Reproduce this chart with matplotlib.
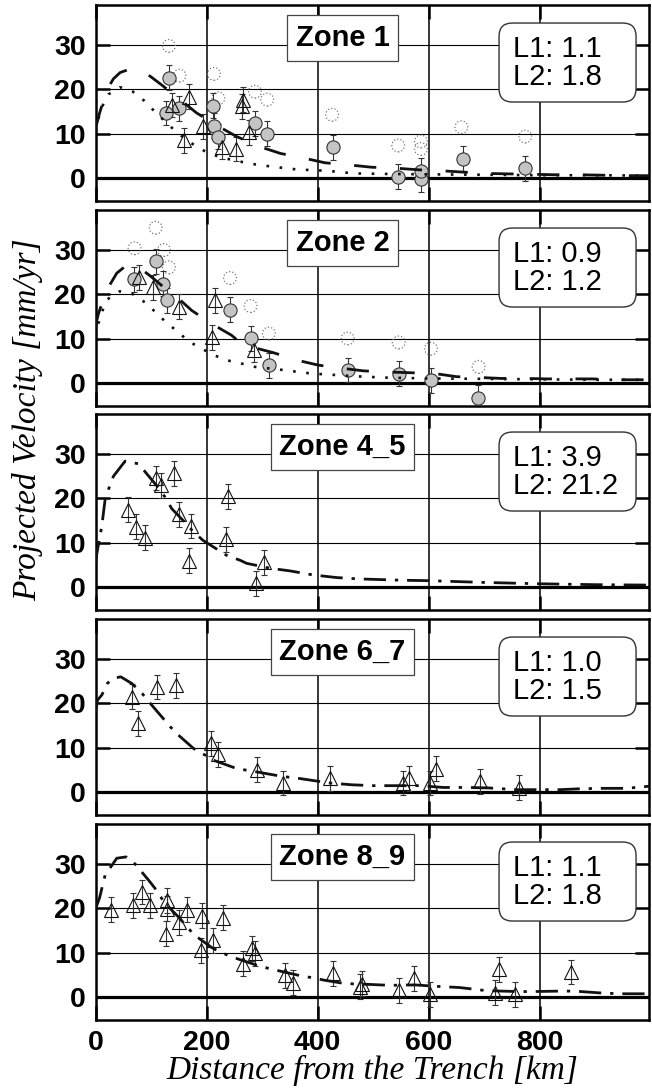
import matplotlib
matplotlib.use("Agg")
import matplotlib.pyplot as plt
from matplotlib.patches import FancyBboxPatch

plt.rcParams['font.family'] = ['Liberation Sans', 'DejaVu Sans']

# ---- values ----
zone_names = ['Zone 1', 'Zone 2', 'Zone 4_5', 'Zone 6_7', 'Zone 8_9']
l1_values = ['1.1', '0.9', '3.9', '1.0', '1.1']
l2_values = ['1.8', '1.2', '21.2', '1.5', '1.8']
x_ticks = [0, 200, 400, 600, 800]
y_ticks = [0, 10, 20, 30]
err_bar = 2.8

# Zone 1
z1_circ_x = [132, 127, 151, 212, 213, 221, 287, 309, 427, 545, 586, 587, 662, 774]
z1_circ_y = [22.6, 14.7, 15.8, 16.3, 11.8, 9.4, 12.4, 10.0, 7.0, 0.4, -0.2, 1.7, 4.4, 2.3]
z1_raw_x = [132, 151, 213, 221, 287, 309, 426, 545, 586, 586, 659, 774]
z1_raw_y = [29.8, 23.1, 23.5, 18.0, 19.5, 17.7, 14.3, 7.4, 8.3, 6.6, 11.5, 9.4]
z1_tri_x = [137, 169, 159, 194, 227, 252, 265, 263, 276]
z1_tri_y = [16.5, 18.4, 8.6, 11.7, 7.1, 6.6, 17.7, 16.2, 10.4]
z1_dash_x = [0, 3, 7, 20, 32, 44, 62, 86, 100, 119, 152, 182, 221, 254, 296, 333,
             377, 413, 458, 497, 539, 584, 623, 662, 704, 746, 791, 830, 872, 914, 956, 1000]
z1_dash_y = [11.5, 12.8, 14.7, 19.9, 22.4, 23.8, 24.6, 24.0, 22.8, 21.0, 17.7, 14.7,
             11.7, 9.4, 7.1, 5.6, 4.5, 3.5, 3.0, 2.5, 2.3, 1.9, 1.7, 1.4, 1.1, 1.0,
             0.9, 0.8, 0.8, 0.7, 0.6, 0.6]
z1_dot_x = [0, 5, 11, 23, 44, 67, 87, 105, 125, 143, 164, 185, 206, 233, 259, 284,
            320, 362, 416, 467, 518, 600, 700, 800, 900, 1000]
z1_dot_y = [10.5, 13.5, 16.0, 18.9, 20.5, 19.5, 17.5, 15.2, 12.8, 10.7, 8.6, 6.9,
            5.5, 4.5, 3.8, 3.2, 2.6, 2.0, 1.7, 1.1, 1.0, 0.9, 0.8, 0.7, 0.7, 0.6]

# Zone 2
z2_circ_x = [108, 69, 122, 129, 242, 279, 312, 454, 546, 604, 689]
z2_circ_y = [27.5, 23.4, 22.4, 18.7, 16.6, 10.1, 4.1, 3.0, 2.2, 0.7, -3.2]
z2_raw_x = [108, 70, 123, 132, 242, 279, 312, 454, 546, 604, 690]
z2_raw_y = [35.0, 30.4, 30.0, 26.1, 23.7, 17.4, 11.2, 10.1, 9.2, 7.8, 3.7]
z2_tri_x = [78, 104, 151, 215, 210, 285]
z2_tri_y = [23.9, 21.6, 17.2, 18.7, 10.4, 7.5]
z2_dash_x = [0, 2, 5, 19, 38, 55, 79, 100, 119, 143, 173, 209, 245, 265, 320, 363,
             401, 443, 483, 540, 611, 650, 695, 731, 776, 812, 859, 896, 938, 1000]
z2_dash_y = [12.5, 14.2, 15.7, 20.8, 24.8, 26.5, 26.0, 24.0, 22.0, 19.8, 16.4, 13.4,
             10.8, 8.7, 6.9, 5.2, 4.1, 3.4, 2.8, 2.5, 2.2, 1.5, 1.3, 1.1, 1.1, 1.0,
             1.0, 1.0, 0.8, 0.8]
z2_dot_x = [0, 5, 11, 21, 43, 65, 89, 108, 127, 147, 167, 188, 212, 236, 261, 287,
            338, 363, 389, 416, 467, 518, 600, 700, 800, 900, 1000]
z2_dot_y = [10.5, 13.5, 16.0, 18.9, 20.7, 20.2, 18.2, 16.0, 13.7, 11.7, 9.5, 8.0,
            6.4, 5.2, 4.5, 3.7, 3.0, 2.6, 2.2, 2.0, 1.6, 1.3, 1.1, 1.0, 0.9, 0.8, 0.8]

# Zone 4_5
z3_tri_x = [58, 72, 89, 108, 117, 141, 150, 171, 168, 239, 234, 304, 289]
z3_tri_y = [17.5, 13.6, 11.2, 24.6, 23.0, 25.7, 16.4, 13.8, 6.0, 20.5, 10.8, 5.6, 0.9]
z3_fit_x = [0, 2, 5, 11, 17, 26, 32, 53, 77, 89, 113, 125, 137, 164, 173, 193, 236,
            260, 272, 314, 350, 391, 434, 473, 550, 600, 700, 800, 900, 1000]
z3_fit_y = [5.5, 7.5, 9.7, 13.8, 19.8, 23.1, 25.0, 28.4, 27.8, 26.0, 22.4, 20.3, 17.7,
            14.2, 12.9, 10.6, 7.2, 6.1, 5.4, 4.3, 3.7, 2.8, 2.2, 1.9, 1.6, 1.5, 1.1,
            0.8, 0.6, 0.5]

# Zone 6_7
z4_tri_x = [65, 76, 111, 144, 207, 221, 290, 337, 423, 554, 565, 603, 614, 692, 763]
z4_tri_y = [21.5, 15.5, 23.7, 24.1, 11.0, 8.6, 5.1, 2.1, 3.2, 2.1, 3.2, 2.1, 5.3, 2.5, 1.0]
z4_fit_x = [0, 3, 11, 21, 31, 45, 65, 84, 95, 119, 134, 147, 176, 194, 215, 253, 266,
            290, 335, 368, 422, 461, 500, 542, 584, 626, 668, 707, 758, 794, 836, 872,
            914, 956, 1000]
z4_fit_y = [18.0, 20.7, 21.9, 24.5, 25.6, 26.0, 24.5, 22.2, 20.5, 17.0, 14.8, 13.1,
            9.9, 8.6, 7.1, 5.4, 5.1, 4.6, 3.6, 3.1, 2.1, 1.7, 1.5, 1.5, 1.5, 1.1, 1.1,
            1.0, 0.6, 0.6, 0.6, 0.8, 0.9, 0.9, 1.4]

# Zone 8_9
z5_tri_x = [28, 68, 84, 97, 129, 128, 165, 150, 126, 192, 230, 189, 212, 266, 282,
            287, 341, 355, 428, 477, 479, 546, 574, 603, 726, 719, 755, 857]
z5_tri_y = [19.7, 20.7, 23.7, 20.7, 21.8, 19.9, 19.7, 16.9, 14.3, 18.4, 17.9, 10.6,
            12.8, 7.6, 11.0, 9.9, 5.0, 3.3, 5.4, 2.4, 3.1, 1.6, 4.3, 0.7, 6.3, 1.0,
            0.7, 5.7]
z5_fit_x = [0, 7, 13, 17, 38, 55, 71, 97, 112, 123, 149, 177, 209, 221, 245, 284, 295,
            329, 371, 396, 410, 449, 494, 530, 575, 611, 656, 704, 761, 788, 836, 863,
            908, 944, 1000]
z5_fit_y = [20.0, 22.4, 25.5, 27.5, 31.3, 31.6, 30.0, 26.1, 23.7, 21.4, 18.1, 14.1,
            11.2, 10.4, 9.1, 7.5, 7.0, 6.0, 4.8, 4.3, 3.9, 3.1, 2.9, 2.7, 2.8, 2.5,
            2.2, 1.5, 1.3, 1.3, 1.4, 1.4, 1.0, 0.8, 0.8]

panels = [
    dict(circ=(z1_circ_x, z1_circ_y), raw=(z1_raw_x, z1_raw_y), tri=(z1_tri_x, z1_tri_y),
         lines=[((z1_dash_x, z1_dash_y), 'dash'), ((z1_dot_x, z1_dot_y), 'dot')]),
    dict(circ=(z2_circ_x, z2_circ_y), raw=(z2_raw_x, z2_raw_y), tri=(z2_tri_x, z2_tri_y),
         lines=[((z2_dash_x, z2_dash_y), 'dash'), ((z2_dot_x, z2_dot_y), 'dot')]),
    dict(tri=(z3_tri_x, z3_tri_y), lines=[((z3_fit_x, z3_fit_y), 'dashdot')]),
    dict(tri=(z4_tri_x, z4_tri_y), lines=[((z4_fit_x, z4_fit_y), 'dashdot')]),
    dict(tri=(z5_tri_x, z5_tri_y), lines=[((z5_fit_x, z5_fit_y), 'dashdot')]),
]

line_styles = {
    'dash': dict(lw=2.0, linestyle=(0, (8.0, 8.5))),
    'dot': dict(lw=1.9, linestyle=(0, (1, 4.0))),
    'dashdot': dict(lw=2.0, linestyle=(0, (8.0, 3.2, 1.2, 3.2))),
}

W, H = 652, 1088
fig = plt.figure(figsize=(W / 100, H / 100), dpi=100)

ax_left = 95.7 / W
ax_w = 553.3 / W
ax_h = 196 / H
bottoms_px = [201, 406, 610, 815, 1020]

for i, p in enumerate(panels):
    ax = fig.add_axes([ax_left, (H - bottoms_px[i]) / H, ax_w, ax_h])
    ax.set_xlim(0, 997)
    ax.set_ylim(-5.1, 39)

    # grid
    for yv in y_ticks[1:]:
        ax.axhline(yv, color='k', lw=0.8, zorder=1)
    ax.axhline(0, color='k', lw=2.3, zorder=1)
    for xv in x_ticks[1:]:
        ax.axvline(xv, color='k', lw=1.1, zorder=1)

    # measurements
    if 'raw' in p:
        ax.scatter(p['raw'][0], p['raw'][1], s=85, facecolors='none',
                   edgecolors='#777777', linewidths=0.9, linestyles=':', zorder=2)
    if 'circ' in p:
        ax.errorbar(p['circ'][0], p['circ'][1], yerr=err_bar, fmt='none',
                    ecolor='#333333', elinewidth=0.8, capsize=2.5, capthick=0.8, zorder=3)
        ax.plot(p['circ'][0], p['circ'][1], 'o', ms=9.5, mfc='#c4c4c4',
                mec='#333333', mew=0.8, zorder=4)
    ax.errorbar(p['tri'][0], p['tri'][1], yerr=err_bar, fmt='none',
                ecolor='#333333', elinewidth=0.8, capsize=2.5, capthick=0.8, zorder=3)
    ax.plot(p['tri'][0], p['tri'][1], '^', ms=10.5, mfc='none',
            mec='#111111', mew=0.8, zorder=4)

    # model curves
    for (lx, ly), style in p['lines']:
        ax.plot(lx, ly, color='#111111', zorder=5, **line_styles[style])

    # labels in boxes
    ax.text(0.446, 0.832, zone_names[i], transform=ax.transAxes, ha='center',
            va='center', fontsize=21, fontweight='bold', zorder=7,
            bbox=dict(boxstyle='square,pad=0.3', fc='white', ec='#444444', lw=0.9))
    box = FancyBboxPatch((0.729, 0.505), 0.2476, 0.403, transform=ax.transAxes,
                         boxstyle='round,pad=0,rounding_size=0.024',
                         mutation_aspect=553.3 / 196, fc='white', ec='#333333',
                         lw=1.0, zorder=7)
    ax.add_patch(box)
    ax.text(0.754, 0.706, f'L1: {l1_values[i]}\nL2: {l2_values[i]}',
            transform=ax.transAxes, ha='left', va='center', fontsize=21,
            linespacing=1.0, zorder=8)

    ax.set_xticks(x_ticks)
    ax.set_yticks(y_ticks)
    ax.tick_params(direction='in', length=10, width=1.8, top=True, right=True,
                   labelsize=20.5, pad=7)
    for lab in ax.get_yticklabels():
        lab.set_fontweight('bold')
    if i < len(panels) - 1:
        ax.set_xticklabels([])
    else:
        for lab in ax.get_xticklabels():
            lab.set_fontweight('bold')
    for sp in ax.spines.values():
        sp.set_linewidth(1.8)

fig.text(372 / W, 2 / H, 'Distance from the Trench [km]', ha='center', va='bottom',
         fontsize=24, family='Liberation Serif', style='italic')
fig.text(12 / W, (H - 420) / H, 'Projected Velocity [mm/yr]', ha='left', va='center',
         rotation=90, fontsize=24, family='Liberation Serif', style='italic')

fig.savefig('out.png', dpi=100)
